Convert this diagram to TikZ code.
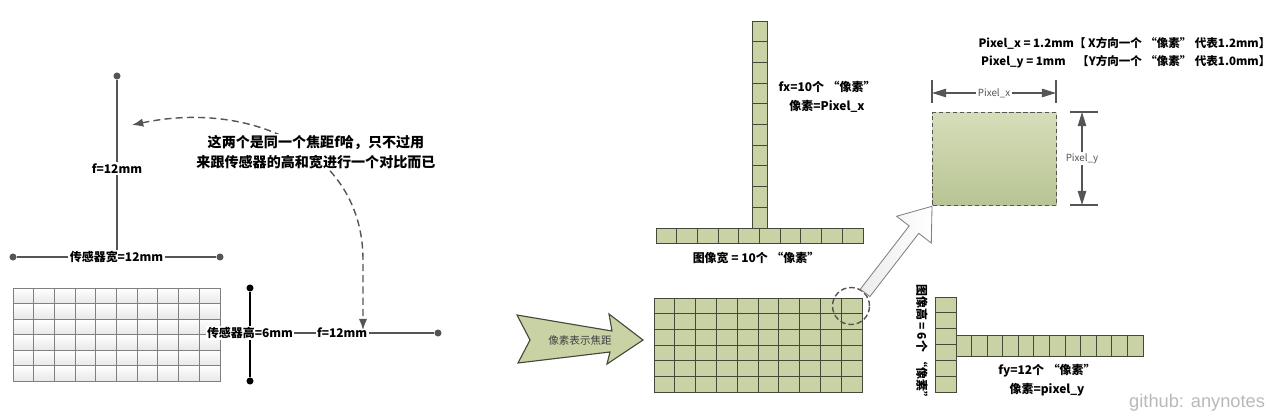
\documentclass[tikz,border=0pt]{standalone}
\usepackage{fontspec}
\setmainfont{Noto Sans CJK SC}
\newfontfamily\gitfont{Liberation Sans}
\usetikzlibrary{arrows.meta, calc}
\tikzset{>=latex}
\definecolor{pixgreen}{RGB}{200,210,164}
\definecolor{pixgreenD}{RGB}{184,196,146}
\definecolor{pixline}{RGB}{68,74,58}
\definecolor{axisgray}{RGB}{85,85,85}
\newcommand*{\cq}[1]{\hspace{0.3em}“#1”\hspace{0.3em}}
\tikzset{
    dot/.style={circle, fill=axisgray, inner sep=0pt, minimum size=5pt},
    lbl/.style={fill=white, inner sep=1pt, font=\bfseries\fontsize{8.5}{13.5}\selectfont},
    graycell/.style={draw=gray, line width=0.7pt, top color=white, bottom color=gray!18},
    greencell/.style={draw=pixline, line width=0.6pt, fill=pixgreen},
    dimline/.style={axisgray, line width=0.9pt, {Triangle[length=10pt,width=6pt]}-{Triangle[length=10pt,width=6pt]}},
}

\begin{document}
\begin{tikzpicture}[x=0.025cm, y=-0.025cm]
    \useasboundingbox(0,0)rectangle(1280,420);
    % sensor width and focal length
    \node[dot](ftop)at(117,76){};
    \node[dot](wl)at(13,257){};
    \node[dot](wr)at(220,257){};
    \coordinate(fbase)at(117,257);
    \draw[axisgray, line width=1pt](ftop)--(fbase)node[lbl, midway, text=black]{f=12mm};
    \draw[axisgray, line width=1pt](wl)--(wr)node[lbl, midway, text=black]{传感器宽=12mm};
    \foreach \i in {0,...,9}
        \foreach \j in {0,...,5}
            \path[graycell](13+20.7*\i, 288+15.5*\j)rectangle++(20.7,15.5);
    % sensor height
    \node[dot, fill=black](ht)at(250,288){};
    \node[dot, fill=black](hb)at(250,381){};
    \coordinate(hmid)at(250,333);
    \node[dot](fr)at(438,333){};
    \draw[black, line width=1.2pt](ht)--(hb);
    \draw[axisgray, line width=1pt](hmid)--(fr)node[lbl, midway, text=black]{f=12mm};
    \node[lbl](hsens)at(hmid){传感器高=6mm};
    % note
    \coordinate(noteL)at(132,125);
    \coordinate(noteB)at(363,330);
    \draw[axisgray, line width=1pt, dash pattern=on 5pt off 3pt, {Latex[length=8pt,width=6pt]}-{Latex[length=8pt,width=6pt]}](noteL).. controls (250,100) and (363,150) .. (363,260)--(noteB);
    \node[lbl, align=center, font=\bfseries\fontsize{10}{14}\selectfont](note)at(316,152){这两个是同一个焦距f哈，只不过用\\来跟传感器的高和宽进行一个对比而已};

    % fx in pixels
    \foreach \j in {0,...,9}
        \draw[greencell](752, 21+20.7*\j)rectangle++(15,20.7);
    \foreach \i in {0,...,9}
        \draw[greencell](656+20.7*\i, 228)rectangle++(20.7,15);
    \node[lbl, align=center](fxlbl)at(827,97){fx=10个\cq{像素}\\像素=Pixel\_x};
    \node[lbl](wlbl)at(756,258){图像宽 = 10个\cq{像素}};
    % image
    \foreach \i in {0,...,9}
        \foreach \j in {0,...,5}
            \draw[greencell](654+20.8*\i, 298+15.67*\j)rectangle++(20.8,15.67);
    \node[circle, draw=axisgray, dash pattern=on 4pt off 2pt, line width=1pt, minimum size=0.925cm, inner sep=0pt](mag)at(851,306){};
    \draw[pixline, line width=0.8pt, fill=pixgreen](517,315)--(612,331)--(609,314)--(643,340)--(607,364)--(610,352)--(518,363)--(530,340)--cycle;
    \node[font=\fontsize{7.5}{9}\selectfont, text=darkgray](focal)at(580,340){像素表示焦距};
    % one pixel
    \node[draw=axisgray, dash pattern=on 3pt off 2pt, line width=0.9pt, top color=pixgreen!75!white, bottom color=pixgreenD, minimum width=3.1cm, minimum height=2.325cm, inner sep=0pt, anchor=north west](pix)at(932,112){};
    \coordinate(arT)at(mag.43);
    \coordinate(arP)at(pix.south west);
    \coordinate(arB)at($(arP)!21pt!(arT)$);
    \draw[gray, line width=0.6pt, left color=gray!15, right color=white]($(arT)!4.3pt!90:(arP)$)--($(arB)!4.3pt!90:(arP)$)--($(arB)!15.6pt!90:(arP)$)--(arP)--($(arB)!15.6pt!-90:(arP)$)--($(arB)!4.3pt!-90:(arP)$)--($(arT)!4.3pt!-90:(arP)$)--cycle;
    \draw[axisgray, line width=0.9pt](932,80)--(932,103) (1056,80)--(1056,103);
    \coordinate(dxL)at(932,93);
    \coordinate(dxR)at(1056,93);
    \draw[dimline](dxL)--(dxR)node[lbl, midway, font=\fontsize{7}{8}\selectfont]{Pixel\_x};
    \draw[axisgray, line width=0.9pt](1070,112)--(1098,112) (1070,205)--(1098,205);
    \coordinate(dyT)at(1082,112);
    \coordinate(dyB)at(1082,205);
    \draw[dimline](dyT)--(dyB)node[lbl, midway, font=\fontsize{7}{8}\selectfont]{Pixel\_y};
    \node[lbl, anchor=east, font=\bfseries\fontsize{8.2}{10}\selectfont](pxtxt)at(1272,43){Pixel\_x = 1.2mm【 X方向一个\cq{像素}代表1.2mm】};
    \node[lbl, anchor=east, font=\bfseries\fontsize{8.2}{10}\selectfont](pytxt)at(1272,62){Pixel\_y = 1mm\quad【Y方向一个\cq{像素}代表1.0mm】};

    % fy in pixels
    \foreach \j in {0,...,5}
        \draw[greencell](935, 297+15.83*\j)rectangle++(21,15.83);
    \foreach \i in {0,...,11}
        \draw[greencell](956+15.58*\i, 335)rectangle++(15.58,21);
    \node[lbl, rotate=-90](hlbl)at(922,344){图像高 = 6个\cq{像素}};
    \node[lbl, align=center](fylbl)at(1047,380){fy=12个\cq{像素}\\像素=pixel\_y};
    \node[font=\gitfont\fontsize{13}{15}\selectfont, text=gray!55, anchor=east](git)at(1270,403){github: anynotes};
\end{tikzpicture}
\end{document}
